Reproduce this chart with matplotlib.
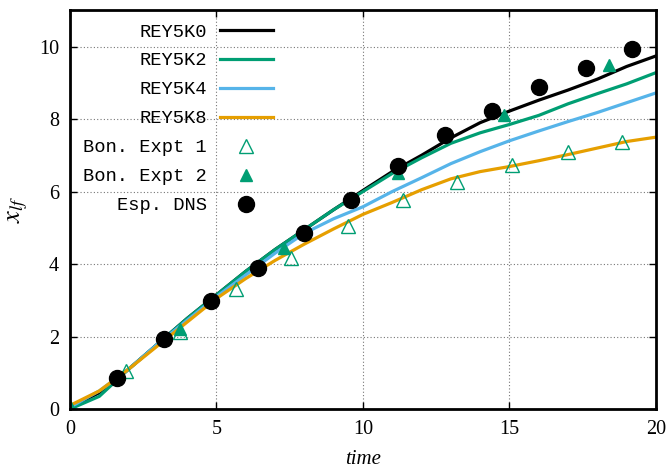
import matplotlib

matplotlib.use("Agg")
import matplotlib.pyplot as plt

# simulation curves sampled at t = 0..20
time = list(range(21))
rey5k0 = [0.05, 0.45, 1.1, 1.8, 2.5, 3.15, 3.8, 4.4, 4.95, 5.5, 6.03,
          6.55, 7.0, 7.48, 7.9, 8.22, 8.52, 8.8, 9.1, 9.45, 9.74]
rey5k2 = [0.0, 0.35, 1.1, 1.8, 2.5, 3.15, 3.8, 4.4, 4.95, 5.5, 6.0,
          6.5, 6.93, 7.33, 7.62, 7.85, 8.1, 8.42, 8.7, 8.97, 9.28]
rey5k4 = [0.05, 0.5, 1.1, 1.8, 2.45, 3.1, 3.7, 4.3, 4.85, 5.25, 5.58,
          6.0, 6.38, 6.77, 7.1, 7.4, 7.67, 7.93, 8.18, 8.45, 8.72]
rey5k8 = [0.1, 0.5, 1.1, 1.75, 2.4, 3.05, 3.6, 4.1, 4.55, 4.97, 5.37,
          5.7, 6.05, 6.35, 6.55, 6.69, 6.85, 7.02, 7.2, 7.38, 7.5]

# experiments
expt1_t = [0.0, 1.9, 3.75, 5.65, 7.55, 9.5, 11.35, 13.2, 15.1, 17.0, 18.85]
expt1_x = [0.05, 1.05, 2.12, 3.3, 4.18, 5.06, 5.76, 6.26, 6.72, 7.08, 7.38]
expt2_t = [0.0, 3.75, 7.3, 11.2, 14.8, 18.4]
expt2_x = [0.05, 2.22, 4.45, 6.52, 8.1, 9.48]
dns_t = [1.6, 3.2, 4.8, 6.4, 8.0, 9.6, 11.2, 12.8, 14.4, 16.0, 17.6, 19.2]
dns_x = [0.86, 1.94, 2.97, 3.89, 4.87, 5.76, 6.7, 7.57, 8.22, 8.89, 9.42, 9.92]

GREEN = "#009E73"
BLUE = "#56B4E9"
ORANGE = "#E69F00"

plt.rcParams.update({
    "font.family": "serif",
    "font.serif": ["Liberation Serif", "DejaVu Serif"],
    "mathtext.fontset": "stix",
})

fig = plt.figure(figsize=(6.7, 4.68), dpi=100)
ax = fig.add_axes([0.1045, 0.126, 0.8745, 0.852])

ax.plot(time, rey5k0, color="black", lw=2.3, label="REY5K0")
ax.plot(time, rey5k2, color=GREEN, lw=2.3, label="REY5K2")
ax.plot(time, rey5k4, color=BLUE, lw=2.3, label="REY5K4")
ax.plot(time, rey5k8, color=ORANGE, lw=2.3, label="REY5K8")
ax.plot(expt1_t, expt1_x, ls="none", marker="^", ms=10, mfc="none", mec=GREEN,
        mew=1.0, label="Bon. Expt 1")
ax.plot(expt2_t, expt2_x, ls="none", marker="^", ms=8, color=GREEN, label="Bon. Expt 2")
ax.plot(dns_t, dns_x, ls="none", marker="o", ms=11.5, color="black", label="Esp. DNS")

ax.set_xlim(0, 20)
ax.set_ylim(0, 11)
ax.set_xticks([0, 5, 10, 15, 20])
ax.set_yticks([0, 2, 4, 6, 8, 10])
ax.grid(True, color="#777777", ls=(0, (1, 2)), lw=0.8)
ax.tick_params(direction="in", length=5, width=1, top=True, right=True,
               labelsize=14.5, pad=8)
for spine in ax.spines.values():
    spine.set_linewidth(2)

ax.set_xlabel("time", fontsize=15, style="italic", labelpad=8)
ax.set_ylabel(r"$x_{lf}$", fontsize=19, labelpad=6)

ax.legend(loc="upper left", frameon=False, markerfirst=False,
          prop={"family": "Liberation Mono", "size": 13.5},
          handlelength=2.8, handletextpad=0.7, labelspacing=0.63,
          borderaxespad=0.3, numpoints=1)

fig.savefig("out.png")
